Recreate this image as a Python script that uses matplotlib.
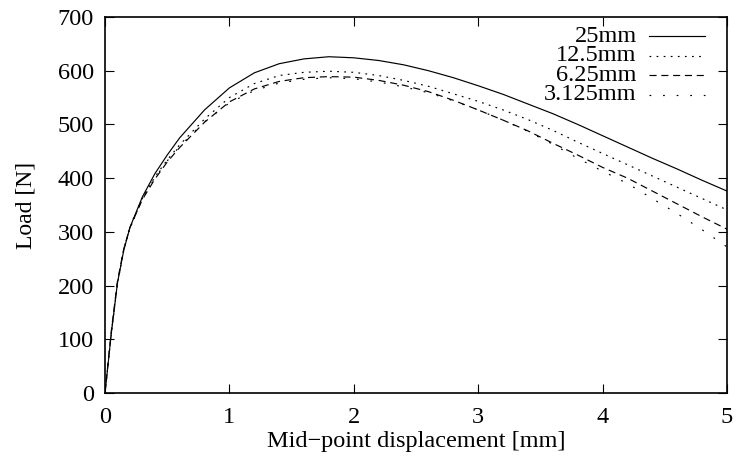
import matplotlib
matplotlib.use('Agg')
import matplotlib.pyplot as plt

plt.rcParams['font.family'] = ['Liberation Serif', 'DejaVu Serif']

# displacement [mm]
X = [0, 0.05, 0.1, 0.15, 0.2, 0.3, 0.4, 0.5, 0.6, 0.8, 1.0, 1.2, 1.4, 1.6, 1.8, 2.0,
     2.2, 2.4, 2.6, 2.8, 3.0, 3.2, 3.4, 3.6, 3.8, 4.0, 4.2, 4.4, 4.6, 4.8, 5.0]

# load [N] for each mesh size
Y25 = [0, 110, 205, 265, 308, 365, 408, 443, 475, 527, 568, 596, 613, 622, 626, 624,
       619, 611, 600, 587, 572, 556, 538, 520, 500, 479, 458, 437, 417, 396, 376]
Y12 = [0, 110, 203, 265, 306, 362, 402, 434, 462, 510, 550, 576, 591, 597, 599, 597,
       591, 582, 571, 557, 543, 527, 509, 489, 467, 446, 425, 404, 383, 362, 341]
Y6 = [0, 115, 208, 268, 308, 360, 398, 430, 457, 504, 542, 566, 580, 587, 589, 588,
      582, 573, 561, 545, 527, 508, 488, 465, 443, 420, 400, 376, 352, 328, 305]
Y3 = [0, 112, 206, 268, 310, 362, 400, 432, 459, 505, 540, 563, 577, 584, 587, 585,
      579, 570, 559, 544, 527, 508, 487, 463, 437, 413, 390, 362, 334, 304, 272]

labels = ['25mm', '12.5mm', '6.25mm', '3.125mm']
styles = ['-', (0, (1.5, 4.5)), (0, (6, 4)), (0, (1.5, 10))]

fig = plt.figure(figsize=(7.36, 4.59), dpi=100)
ax = fig.add_axes([0.1427, 0.1438, 0.845, 0.8192])

for i, Y in enumerate([Y25, Y12, Y6, Y3]):
    ax.plot(X, Y, color='black', lw=0.85, linestyle=styles[i])
    # gnuplot style key: label right aligned, sample on the right
    ky = 0.949 - 0.052 * i
    ax.text(0.855, ky, labels[i], transform=ax.transAxes, ha='right', va='center',
            fontsize=17.5)
    ax.plot([0.874, 0.965], [ky, ky], transform=ax.transAxes, color='black',
            lw=0.85, linestyle=styles[i])

ax.set_xlim(0, 5)
ax.set_ylim(0, 700)
ax.set_xticks([0, 1, 2, 3, 4, 5])
ax.set_yticks(range(0, 701, 100))
ax.tick_params(direction='in', length=6.5, width=0.8, top=True, right=True,
               labelsize=17.5)
ax.tick_params(axis='x', pad=10)
ax.tick_params(axis='y', pad=8)
for s in ax.spines.values():
    s.set_linewidth(1.2)

ax.set_xlabel('Mid\u2212point displacement [mm]', fontsize=17.5, labelpad=2)
ax.set_ylabel('Load [N]', fontsize=17, labelpad=15)

plt.savefig('out.png', dpi=100)
